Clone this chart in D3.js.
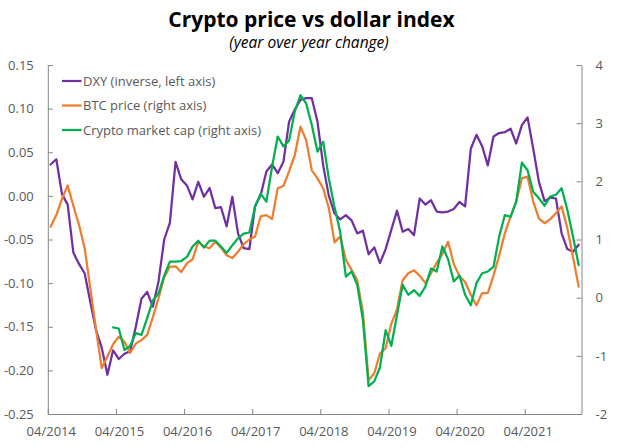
<!DOCTYPE html>
<html><head><meta charset="utf-8">
<script src="https://cdn.jsdelivr.net/npm/d3@7/dist/d3.min.js"></script>
<style>
body{margin:0;background:#fff;}
svg text{font-family:"Open Sans",sans-serif;}
</style>
</head><body>
<svg id="chart" width="622" height="447"></svg>
<script>
// ---- data (monthly, 04/2014 .. 01/2022) ----
const tickLabels = ["04/2014","04/2015","04/2016","04/2017","04/2018","04/2019","04/2020","04/2021"];
const tickIndex = [0,12,24,36,48,60,72,84];
const leftTicks = [-0.25,-0.20,-0.15,-0.10,-0.05,0.00,0.05,0.10,0.15];
const rightTicks = [-2,-1,0,1,2,3,4];
const seriesNames = ["DXY (inverse, left axis)","BTC price (right axis)","Crypto market cap (right axis)"];

const dxy = [0.036,0.042,0.002,-0.010,-0.065,-0.078,-0.089,-0.122,-0.154,-0.174,
  -0.205,-0.177,-0.187,-0.181,-0.178,-0.150,-0.118,-0.110,-0.127,-0.098,
  -0.050,-0.031,0.039,0.019,0.012,-0.004,0.016,-0.001,0.009,-0.014,
  -0.013,-0.035,-0.001,-0.043,-0.060,-0.061,-0.012,0.001,0.028,0.036,
  0.026,0.039,0.085,0.099,0.110,0.112,0.112,0.085,0.035,0.000,
  -0.020,-0.027,-0.022,-0.028,-0.043,-0.040,-0.067,-0.059,-0.077,-0.061,
  -0.039,-0.017,-0.041,-0.038,-0.045,-0.003,-0.010,-0.005,-0.018,-0.019,
  -0.018,-0.015,-0.007,-0.012,0.054,0.070,0.057,0.035,0.068,0.072,
  0.073,0.077,0.060,0.081,0.090,0.054,0.016,-0.006,-0.002,-0.003,
  -0.043,-0.061,-0.064,-0.056];

const btc = [1.22,1.42,1.70,1.93,1.58,1.25,0.85,0.15,-0.55,-1.21,
  -1.01,-0.80,-0.67,-0.76,-0.95,-0.79,-0.73,-0.64,-0.34,-0.01,
  0.35,0.53,0.54,0.44,0.59,0.66,0.96,0.88,0.85,0.96,
  0.86,0.73,0.68,0.79,0.92,1.00,1.05,1.40,1.42,1.35,
  1.88,1.92,2.17,2.45,2.94,2.71,2.19,2.05,1.88,1.54,
  0.95,1.05,0.65,0.48,0.30,-0.25,-1.42,-1.30,-0.96,-0.87,
  -0.45,-0.20,0.30,0.42,0.47,0.38,0.25,0.42,0.60,0.75,
  0.96,0.58,0.37,0.27,0.05,-0.13,0.08,0.08,0.38,0.72,
  1.11,1.39,1.65,2.05,2.08,1.65,1.36,1.28,1.35,1.45,
  1.57,1.20,0.70,0.19];

const cap = [null,null,null,null,null,null,null,null,null,null,
  null,-0.51,-0.53,-0.90,-0.83,-0.61,-0.64,-0.35,-0.05,0.07,
  0.38,0.62,0.62,0.63,0.70,0.88,0.98,0.86,0.98,0.98,
  0.88,0.77,0.90,1.02,1.10,1.12,1.56,1.79,1.65,2.25,
  2.77,2.60,2.70,3.20,3.48,3.34,2.97,2.51,2.68,2.05,
  1.56,1.13,0.36,0.45,0.22,-0.38,-1.52,-1.44,-1.20,-0.56,
  -0.83,-0.30,0.22,0.05,0.13,0.03,0.19,0.50,0.45,0.88,
  0.66,0.28,0.38,0.05,-0.13,0.25,0.42,0.45,0.53,1.05,
  1.42,1.39,1.65,2.32,2.19,1.82,1.71,1.58,1.74,1.77,
  1.88,1.51,1.05,0.56];

const colors = ["#7030A0","#ED7D31","#00B050"];

// ---- layout ----
const svg = d3.select("#chart");
const L = 47.8, R = 581.5, T = 65, B = 414;
const axisColor = "#868686", textColor = "#595959";

const n = dxy.length;
const x = d3.scaleLinear().domain([0, n]).range([L, R]);
const yL = d3.scaleLinear().domain([-0.25, 0.15]).range([B, T]);
const yR = d3.scaleLinear().domain([-2, 4]).range([B, T]);

// title
svg.append("text").attr("x", 311.5).attr("y", 27).attr("text-anchor","middle")
  .attr("font-size", 21).attr("font-weight", 700).attr("fill", "#000")
  .text("Crypto price vs dollar index");
svg.append("text").attr("x", 309).attr("y", 48).attr("text-anchor","middle")
  .attr("font-size", 15.5).attr("font-style", "italic").attr("fill", "#000")
  .text("(year over year change)");

// axes
function styleAxis(g){
  g.selectAll("path.domain").attr("stroke", axisColor).attr("stroke-width", 1);
  g.selectAll(".tick line").attr("stroke", axisColor).attr("stroke-width", 1);
  g.selectAll("text").attr("fill", textColor).attr("font-size", 13)
    .style("font-family", '"Open Sans", sans-serif');
}
const gL = svg.append("g").attr("transform", `translate(${L},0)`)
  .call(d3.axisLeft(yL).tickValues(leftTicks).tickFormat(d => d.toFixed(2))
    .tickSizeInner(-5).tickSizeOuter(0).tickPadding(14));
styleAxis(gL);
const gR = svg.append("g").attr("transform", `translate(${R},0)`)
  .call(d3.axisRight(yR).tickValues(rightTicks).tickFormat(d => String(d))
    .tickSizeInner(-5).tickSizeOuter(0).tickPadding(14));
styleAxis(gR);
const gB = svg.append("g").attr("transform", `translate(0,${B})`)
  .call(d3.axisBottom(x).tickValues(tickIndex).tickFormat((d,i) => tickLabels[i])
    .tickSizeInner(-5).tickSizeOuter(0).tickPadding(13));
styleAxis(gB);
gB.selectAll("text").attr("dx", 3);

// lines
const px = i => x(i + 0.5);
const lineL = d3.line().defined(d => d != null).x((d,i) => px(i)).y(d => yL(d));
const lineR = d3.line().defined(d => d != null).x((d,i) => px(i)).y(d => yR(d));
const plotG = svg.append("g").attr("fill","none").attr("stroke-width", 2.25)
  .attr("stroke-linejoin","round").attr("stroke-linecap","round");
plotG.append("path").attr("d", lineL(dxy)).attr("stroke", colors[0]);
plotG.append("path").attr("d", lineR(btc)).attr("stroke", colors[1]);
plotG.append("path").attr("d", lineR(cap)).attr("stroke", colors[2]);

// legend
const leg = svg.append("g");
seriesNames.forEach((name, k) => {
  const yy = 81 + k * 24.5;
  leg.append("line").attr("x1", 62).attr("x2", 81.5).attr("y1", yy).attr("y2", yy)
    .attr("stroke", colors[k]).attr("stroke-width", 2.25);
  leg.append("text").attr("x", 83).attr("y", yy).attr("dy", "0.35em")
    .attr("font-size", 13).attr("fill", textColor).text(name);
});
</script>
</body></html>
